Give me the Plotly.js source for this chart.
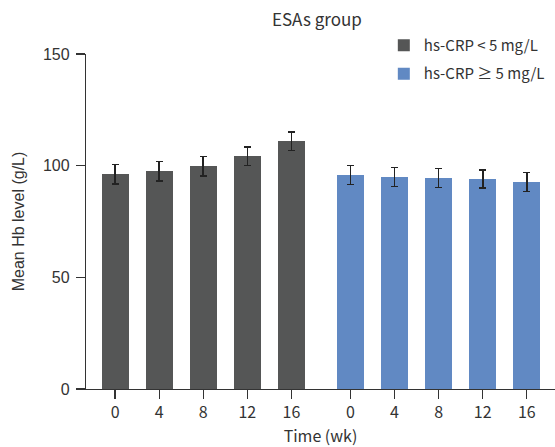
<!DOCTYPE html>
<html>
<head>
<meta charset="utf-8">
<script src="https://cdn.plot.ly/plotly-3.0.1.min.js"></script>
<style>html,body{margin:0;padding:0;background:#fff;}#chart{width:555px;height:447px;}</style>
</head>
<body>
<div id="chart"></div>
<script>
// Data
const weeks = ["0", "4", "8", "12", "16"];
const lowCrpMean = [96.2, 97.5, 99.8, 104.2, 111.0];
const lowCrpErr = [4.3, 4.3, 4.3, 4.2, 4.2];
const highCrpMean = [95.8, 94.9, 94.5, 94.0, 92.7];
const highCrpErr = [4.2, 4.2, 4.3, 4.1, 4.2];
const seriesNames = ["hs-CRP < 5 mg/L", "hs-CRP \u2265 5 mg/L"];

// Layout helpers (positions computed, not data)
const groupGap = 1.34;
const xLow = weeks.map((w, i) => i);
const xHigh = weeks.map((w, i) => i + weeks.length + groupGap - 1);
const tickvals = xLow.concat(xHigh);
const ticktext = weeks.concat(weeks);

const font = "Noto Sans CJK KR, Noto Sans, sans-serif";
const arial = "Liberation Sans, Arial, sans-serif";
const errStyle = {type: "data", visible: true, color: "#222222", thickness: 1.6, width: 3.5};

const traces = [
  {type: "bar", name: seriesNames[0], x: xLow, y: lowCrpMean,
   error_y: Object.assign({array: lowCrpErr}, errStyle),
   marker: {color: "#555656"}, width: 0.61, legendgroup: "a"},
  {type: "bar", name: seriesNames[1], x: xHigh, y: highCrpMean,
   error_y: Object.assign({array: highCrpErr}, errStyle),
   marker: {color: "#6189c3"}, width: 0.61, legendgroup: "b"}
];

const layout = {
  width: 555, height: 447,
  margin: {l: 86, r: 0, t: 54, b: 58, pad: 0, autoexpand: false},
  paper_bgcolor: "#ffffff", plot_bgcolor: "#ffffff",
  font: {family: font, color: "#333333", size: 16},
  title: {text: "ESAs group", x: 0.571, xanchor: "center", xref: "container", y: 0.955, yanchor: "middle",
          font: {family: font, size: 17, color: "#333333"}},
  showlegend: true,
  legend: {x: 0.635, xanchor: "left", y: 1.075, yanchor: "top", bgcolor: "rgba(0,0,0,0)",
           font: {family: font, size: 15, color: "#333333"}, tracegroupgap: 6, itemwidth: 30},
  xaxis: {range: [-0.66, 9.98], tickmode: "array", tickvals: tickvals, ticktext: ticktext,
          showgrid: false, zeroline: false, showline: true, linecolor: "#333333", linewidth: 1.2,
          ticks: "outside", ticklen: 9, tickwidth: 1.2, tickcolor: "#333333",
          tickfont: {family: font, size: 16, color: "#333333"}, fixedrange: true,
          title: {text: "Time (wk)", font: {family: font, size: 16, color: "#333333"}, standoff: 9}},
  yaxis: {range: [0, 150], tickvals: [0, 50, 100, 150], showgrid: false, zeroline: false,
          showline: true, linecolor: "#333333", linewidth: 1.2,
          ticks: "outside", ticklen: 9, tickwidth: 1.2, tickcolor: "#333333", ticklabelstandoff: 3,
          tickfont: {family: arial, size: 16, color: "#333333"},
          title: {text: "Mean Hb level (g/L)", font: {family: arial, size: 16, color: "#333333"}, standoff: 14}},
  bargap: 0
};

Plotly.newPlot("chart", traces, layout, {displayModeBar: false, staticPlot: true});
</script>
</body>
</html>
